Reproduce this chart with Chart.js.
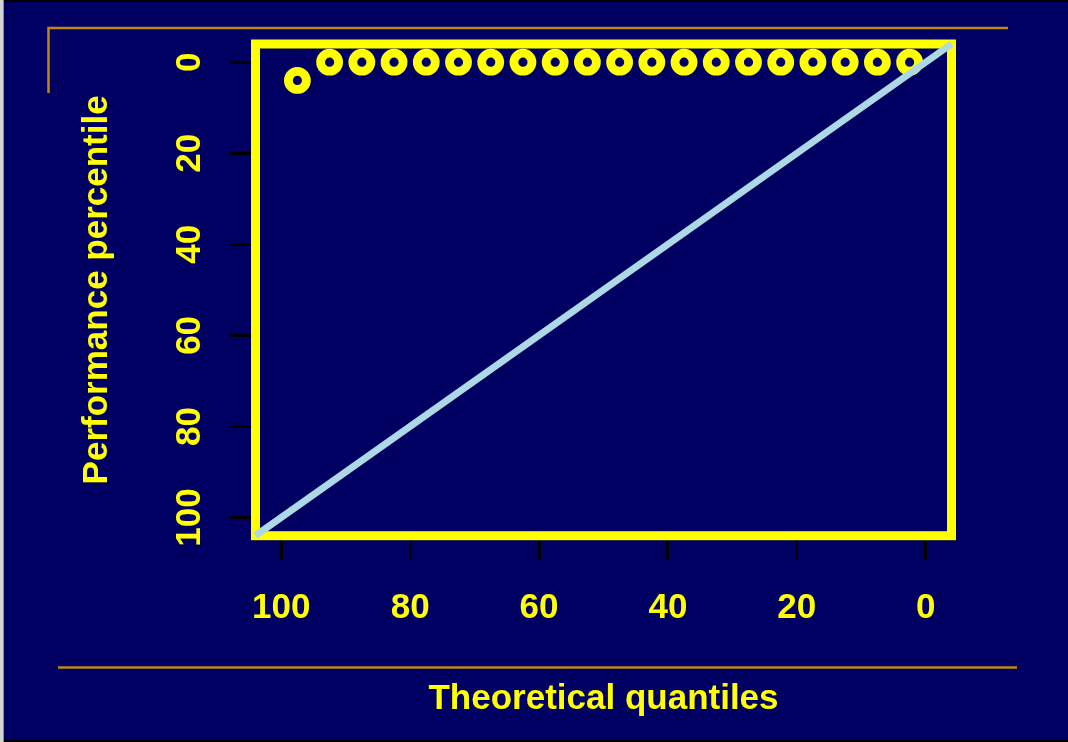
<!DOCTYPE html>
<html>
<head>
<meta charset="utf-8">
<script src="https://cdn.jsdelivr.net/npm/chart.js@4.4.1/dist/chart.umd.min.js"></script>
<style>
  html, body { margin: 0; padding: 0; background: #000; width: 1068px; height: 742px; overflow: hidden; }
  #edge { position: absolute; left: 0; top: 0; width: 4px; height: 742px; background: linear-gradient(to right, #d4d4d4 3px, #8c8c8c 3px); }
  #wrap { position: absolute; left: 4px; top: 2px; width: 1064px; height: 738px; }
</style>
</head>
<body>
<div id="edge"></div>
<div id="wrap"><canvas id="qq" width="1064" height="738"></canvas></div>
<script>
// values
const theoreticalQuantiles = [97.5, 92.5, 87.5, 82.5, 77.5, 72.5, 67.5, 62.5, 57.5, 52.5,
                              47.5, 42.5, 37.5, 32.5, 27.5, 22.5, 17.5, 12.5, 7.5, 2.5];
const performancePercentile = [4, 0, 0, 0, 0, 0, 0, 0, 0, 0,
                               0, 0, 0, 0, 0, 0, 0, 0, 0, 0];
const referenceLine = [-4, 104];
const xTicks = [100, 80, 60, 40, 20, 0];
const yTicks = [0, 20, 40, 60, 80, 100];
const axisRange = [-4, 104];

const NAVY = '#000062';
const YELLOW = '#ffff00';
const GOLD = '#bb8a12';
const FONT = '"Liberation Sans", Helvetica, Arial, sans-serif';

const slideDecor = {
  id: 'slideDecor',
  beforeDraw(chart) {
    const ctx = chart.ctx;
    ctx.save();
    ctx.fillStyle = NAVY;
    ctx.fillRect(0, 0, chart.width, chart.height);
    // thin rules of the slide template
    ctx.strokeStyle = GOLD;
    ctx.lineWidth = 2.5;
    ctx.beginPath();
    ctx.moveTo(44.5, 91);
    ctx.lineTo(44.5, 26);
    ctx.lineTo(1004, 26);
    ctx.moveTo(54, 665.5);
    ctx.lineTo(1013, 665.5);
    ctx.stroke();
    ctx.restore();
  },
  beforeDatasetsDraw(chart) {
    const { left, top, right, bottom } = chart.chartArea;
    const ctx = chart.ctx;
    ctx.save();
    ctx.strokeStyle = YELLOW;
    ctx.lineWidth = 9;
    ctx.strokeRect(left, top, right - left, bottom - top);
    ctx.restore();
  }
};

const tickFont = { family: FONT, size: 35, weight: 'bold' };
const titleFont = { family: FONT, size: 35, weight: 'bold' };

new Chart(document.getElementById('qq'), {
  type: 'scatter',
  data: {
    datasets: [
      {
        type: 'line',
        label: 'y = x',
        data: referenceLine.map(v => ({ x: v, y: v })),
        borderColor: '#add8e6',
        borderWidth: 7,
        pointRadius: 0,
        fill: false,
        clip: false,
        order: 0
      },
      {
        label: 'Performance',
        data: theoreticalQuantiles.map((q, i) => ({ x: q, y: performancePercentile[i] })),
        pointRadius: 9,
        pointBorderWidth: 8.8,
        pointBackgroundColor: NAVY,
        pointBorderColor: YELLOW,
        order: 1
      }
    ]
  },
  options: {
    responsive: false,
    animation: false,
    devicePixelRatio: 1,
    layout: { padding: { left: 0, top: 42, right: 116.5, bottom: 0 } },
    plugins: {
      legend: { display: false },
      tooltip: { enabled: false }
    },
    scales: {
      x: {
        type: 'linear',
        position: 'bottom',
        min: axisRange[0],
        max: axisRange[1],
        reverse: true,
        afterBuildTicks: s => { s.ticks = xTicks.map(v => ({ value: v })); },
        afterFit: s => { s.height = 204.3; },
        grid: { drawOnChartArea: false, drawTicks: true, tickLength: 24.3, tickColor: '#000', tickWidth: 3 },
        border: { display: false },
        ticks: { color: YELLOW, font: tickFont, padding: 27, maxRotation: 0, autoSkip: false },
        title: {
          display: true,
          text: 'Theoretical quantiles',
          color: YELLOW,
          font: titleFont,
          padding: { top: 0, bottom: 20 }
        }
      },
      y: {
        type: 'linear',
        position: 'left',
        min: axisRange[0],
        max: axisRange[1],
        reverse: true,
        afterBuildTicks: s => { s.ticks = yTicks.map(v => ({ value: v })); },
        afterFit: s => { s.width = 251.5; },
        grid: { drawOnChartArea: false, drawTicks: true, tickLength: 25.5, tickColor: '#000', tickWidth: 3 },
        border: { display: false },
        ticks: { color: YELLOW, font: tickFont, padding: 10, minRotation: 90, crossAlign: 'center', autoSkip: false },
        title: {
          display: true,
          text: 'Performance percentile',
          color: YELLOW,
          font: titleFont,
          padding: { top: 72.5, bottom: 0 }
        }
      }
    }
  },
  plugins: [slideDecor]
});
</script>
</body>
</html>
